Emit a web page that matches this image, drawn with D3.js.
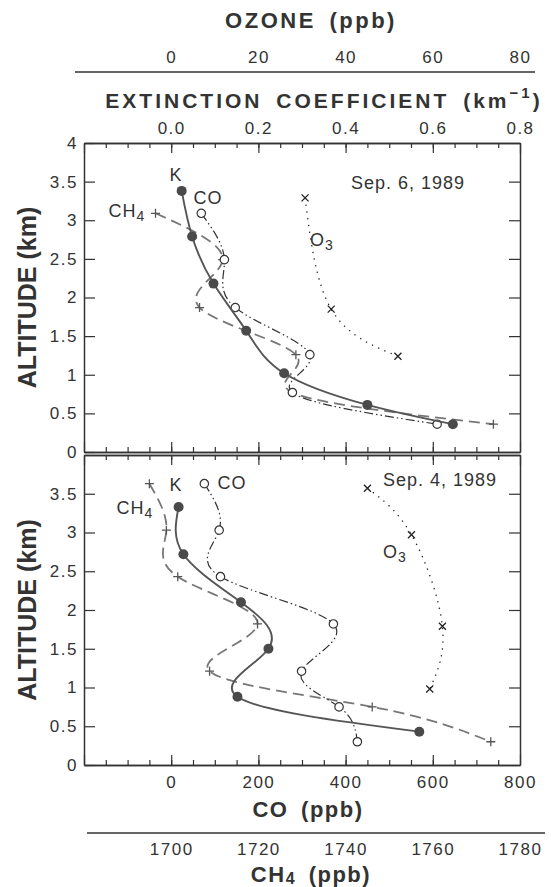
<!DOCTYPE html>
<html>
<head>
<meta charset="utf-8">
<script src="https://cdn.jsdelivr.net/npm/d3@7"></script>
<style>
  body { margin: 0; background: #fff; }
  text { font-family: "Liberation Sans", Arial, sans-serif; fill: #333; }
  .domain { stroke: #333; }
  .tick line { stroke: #333; stroke-width: 1.2; }
</style>
</head>
<body>
<svg width="551" height="887"></svg>
<script>
let svg = d3.select("svg");

// tick values
let altTicksTop = [0, 0.5, 1, 1.5, 2, 2.5, 3, 3.5, 4];
let altTicksBot = [0, 0.5, 1, 1.5, 2, 2.5, 3, 3.5];
let coTicks = [0, 200, 400, 600, 800];
let extTicks = [0.0, 0.2, 0.4, 0.6, 0.8];
let o3Ticks = [0, 20, 40, 60, 80];
let ch4Ticks = [1700, 1720, 1740, 1760, 1780];

// Sep. 6, 1989 (upper panel)
let kAltSep6 = [3.38, 2.79, 2.18, 1.57, 1.02, 0.61, 0.36];
let kExtSep6 = [0.024, 0.048, 0.097, 0.172, 0.259, 0.45, 0.646];
let coAltSep6 = [3.09, 2.49, 1.87, 1.26, 0.77, 0.36];
let coSep6 = [69, 122, 147, 318, 278, 610];
let ch4Sep6 = [1696.4, 1711.8, 1706.5, 1728.6, 1727.8, 1773.9];
let o3AltSep6 = [3.29, 1.85, 1.24];
let o3Sep6 = [30.7, 36.7, 52];

// Sep. 4, 1989 (lower panel)
let kAltSep4 = [3.33, 2.72, 2.10, 1.50, 0.88, 0.43];
let kExtSep4 = [0.017, 0.028, 0.16, 0.223, 0.152, 0.569];
let coAltSep4 = [3.63, 3.03, 2.43, 1.82, 1.21, 0.75, 0.30];
let coSep4 = [76, 110, 113, 372, 299, 385, 427];
let ch4Sep4 = [1695.0, 1698.9, 1701.5, 1719.8, 1708.8, 1746.1, 1773.3];
let o3AltSep4 = [3.57, 2.97, 1.79, 0.98];
let o3Sep4 = [45, 55.1, 62.2, 59.3];

let left = 84, right = 520;
let xCO = d3.scaleLinear().domain([-200, 800]).range([left, right]);
let xExt = d3.scaleLinear().domain([-0.2, 0.8]).range([left, right]);
let xO3 = d3.scaleLinear().domain([-20, 80]).range([left, right]);
let xCH4 = d3.scaleLinear().domain([1680, 1780]).range([left, right]);

let yTop = d3.scaleLinear().domain([0, 4]).range([452, 143]);
let yBot = d3.scaleLinear().domain([0, 4]).range([765, 455]);

let minorCO = d3.range(-150, 800, 50);
let majorCO = [-200, 0, 200, 400, 600, 800];

let styleTicks = g => g.selectAll(".tick text")
  .attr("font-size", 17).attr("letter-spacing", 1.5).attr("fill", "#333");

let title = (x, y, size, spacing) => svg.append("text")
  .attr("x", x).attr("y", y).attr("text-anchor", "middle")
  .attr("dominant-baseline", "central").attr("font-size", size)
  .attr("font-weight", "bold").attr("letter-spacing", spacing).attr("word-spacing", 5);

//frame + ticks for one panel
let panel = (y, altTicks) => {
  let g = svg.append("g");
  let y0 = y(0), y4 = y(4);
  // top edge ticks (inward = down)
  g.append("g").attr("transform", "translate(0," + y4 + ")")
    .call(d3.axisBottom(xCO).tickValues(minorCO).tickSize(5).tickSizeOuter(0).tickFormat(""));
  g.append("g").attr("transform", "translate(0," + y4 + ")")
    .call(d3.axisBottom(xCO).tickValues(majorCO).tickSize(10).tickSizeOuter(0).tickFormat(""));
  // bottom edge ticks (inward = up)
  g.append("g").attr("transform", "translate(0," + y0 + ")")
    .call(d3.axisTop(xCO).tickValues(minorCO).tickSize(5).tickSizeOuter(0).tickFormat(""));
  g.append("g").attr("transform", "translate(0," + y0 + ")")
    .call(d3.axisTop(xCO).tickValues(majorCO).tickSize(10).tickSizeOuter(0).tickFormat(""));
  // left axis
  g.append("g").attr("transform", "translate(" + left + ",0)")
    .call(d3.axisLeft(y).tickValues(altTicks).tickSizeInner(-11).tickSizeOuter(0).tickPadding(6)
      .tickFormat(d => String(d)))
    .call(styleTicks);
  // right axis
  g.append("g").attr("transform", "translate(" + right + ",0)")
    .call(d3.axisRight(y).tickValues(altTicks.filter(d => d > 0 && d < 4)).tickSizeInner(-11).tickSizeOuter(0).tickFormat(""));
  g.selectAll(".domain").attr("stroke-width", 1.5);
  svg.append("text")
    .attr("transform", "translate(27," + (y0 + y4) / 2 + ") rotate(-90)")
    .attr("text-anchor", "middle").attr("dominant-baseline", "central")
    .attr("font-size", 25).attr("font-weight", "bold").attr("fill", "#444")
    .text("ALTITUDE (km)");
};

panel(yTop, altTicksTop);
panel(yBot, altTicksBot);

// top axes: extinction & ozone
svg.append("g").attr("transform", "translate(0,143)")
  .call(d3.axisTop(xExt).tickValues(extTicks).tickSize(0).tickPadding(9).tickFormat(d3.format(".1f")))
  .call(g => g.select(".domain").remove())
  .call(styleTicks);
let extTitle = title(324, 100, 21, 3).attr("fill", "#555");
extTitle.append("tspan").text("EXTINCTION COEFFICIENT (km");
extTitle.append("tspan").attr("font-size", 15).attr("dy", -8).text("\u22121");
extTitle.append("tspan").attr("dy", 8).text(")");

svg.append("g").attr("transform", "translate(0,72)")
  .call(d3.axisTop(xO3).tickValues(o3Ticks).tickSize(0).tickPadding(9))
  .call(g => g.select(".domain").remove())
  .call(styleTicks);
svg.append("line").attr("x1", 75).attr("x2", 535).attr("y1", 72).attr("y2", 72)
  .attr("stroke", "#333").attr("stroke-width", 1.5);
title(311, 20, 22, 2.5).text("OZONE (ppb)");

// bottom axes: CO & CH4
svg.append("g").attr("transform", "translate(0,765)")
  .call(d3.axisBottom(xCO).tickValues(coTicks).tickSize(0).tickPadding(11))
  .call(g => g.select(".domain").remove())
  .call(styleTicks);
title(308, 809, 22, 1.5).text("CO (ppb)");
svg.append("line").attr("x1", 87).attr("x2", 545).attr("y1", 833).attr("y2", 833)
  .attr("stroke", "#333").attr("stroke-width", 1.5);
svg.append("g").attr("transform", "translate(0,833)")
  .call(d3.axisBottom(xCH4).tickValues(ch4Ticks).tickSize(0).tickPadding(10).tickFormat(d3.format("d")))
  .call(g => g.select(".domain").remove())
  .call(styleTicks);
let ch4Title = title(311, 874, 22, 1.5);
ch4Title.append("tspan").text("CH");
ch4Title.append("tspan").attr("font-size", 16).attr("dy", 4).text("4");
ch4Title.append("tspan").attr("dy", -4).text(" (ppb)");

// series drawing
let drawSeries = (y, alts, vals, x, opt) => {
  let pts = d3.zip(vals, alts);
  let line = d3.line().x(d => x(d[0])).y(d => y(d[1])).curve(d3.curveNatural);
  svg.append("path").datum(pts).attr("d", line).attr("fill", "none")
    .attr("stroke", opt.stroke).attr("stroke-width", opt.width)
    .attr("stroke-dasharray", opt.dash || null);
  let m = svg.append("g").selectAll("g").data(pts).enter().append("g")
    .attr("transform", d => "translate(" + x(d[0]) + "," + y(d[1]) + ")");
  if (opt.marker === "dot") {
    m.append("circle").attr("r", 5).attr("fill", "#4a4a4a");
  } else if (opt.marker === "ring") {
    m.append("circle").attr("r", 4.2).attr("fill", "#fff").attr("stroke", "#333").attr("stroke-width", 1.2);
  } else if (opt.marker === "plus") {
    m.append("path").attr("d", "M-4.5,0H4.5M0,-4.5V4.5").attr("stroke", "#555").attr("stroke-width", 1.3);
  } else if (opt.marker === "cross") {
    m.append("path").attr("d", "M-3.5,-3.5L3.5,3.5M-3.5,3.5L3.5,-3.5").attr("stroke", "#222").attr("stroke-width", 1.3);
  }
};

let kStyle = { stroke: "#555", width: 1.9, marker: "dot" };
let coStyle = { stroke: "#333", width: 1.2, dash: "9,3,1.5,3,1.5,3", marker: "ring" };
let ch4Style = { stroke: "#777", width: 1.8, dash: "11,6", marker: "plus" };
let o3Style = { stroke: "#222", width: 1.3, dash: "1.3,5.5", marker: "cross" };

drawSeries(yTop, o3AltSep6, o3Sep6, xO3, o3Style);
drawSeries(yTop, coAltSep6, ch4Sep6, xCH4, ch4Style);
drawSeries(yTop, coAltSep6, coSep6, xCO, coStyle);
drawSeries(yTop, kAltSep6, kExtSep6, xExt, kStyle);

drawSeries(yBot, o3AltSep4, o3Sep4, xO3, o3Style);
drawSeries(yBot, coAltSep4, ch4Sep4, xCH4, ch4Style);
drawSeries(yBot, coAltSep4, coSep4, xCO, coStyle);
drawSeries(yBot, kAltSep4, kExtSep4, xExt, kStyle);

// in-plot labels
let label = (x, y, main, sub, fill) => {
  let t = svg.append("text").attr("x", x).attr("y", y).attr("text-anchor", "middle")
    .attr("dominant-baseline", "central").attr("font-size", 18).attr("letter-spacing", 1)
    .attr("fill", fill || "#333");
  t.append("tspan").text(main);
  if (sub) t.append("tspan").attr("font-size", 14).attr("dy", 5).text(sub);
};
label(176, 175, "K", null, "#555");
label(208, 198, "CO");
label(127, 211, "CH", "4");
label(322, 240, "O", "3");
label(408, 183, "Sep. 6, 1989");

label(176, 485, "K", null, "#555");
label(232, 483, "CO");
label(135, 508, "CH", "4");
label(395, 552, "O", "3");
label(440, 480, "Sep. 4, 1989", null, "#444");
</script>
</body>
</html>
